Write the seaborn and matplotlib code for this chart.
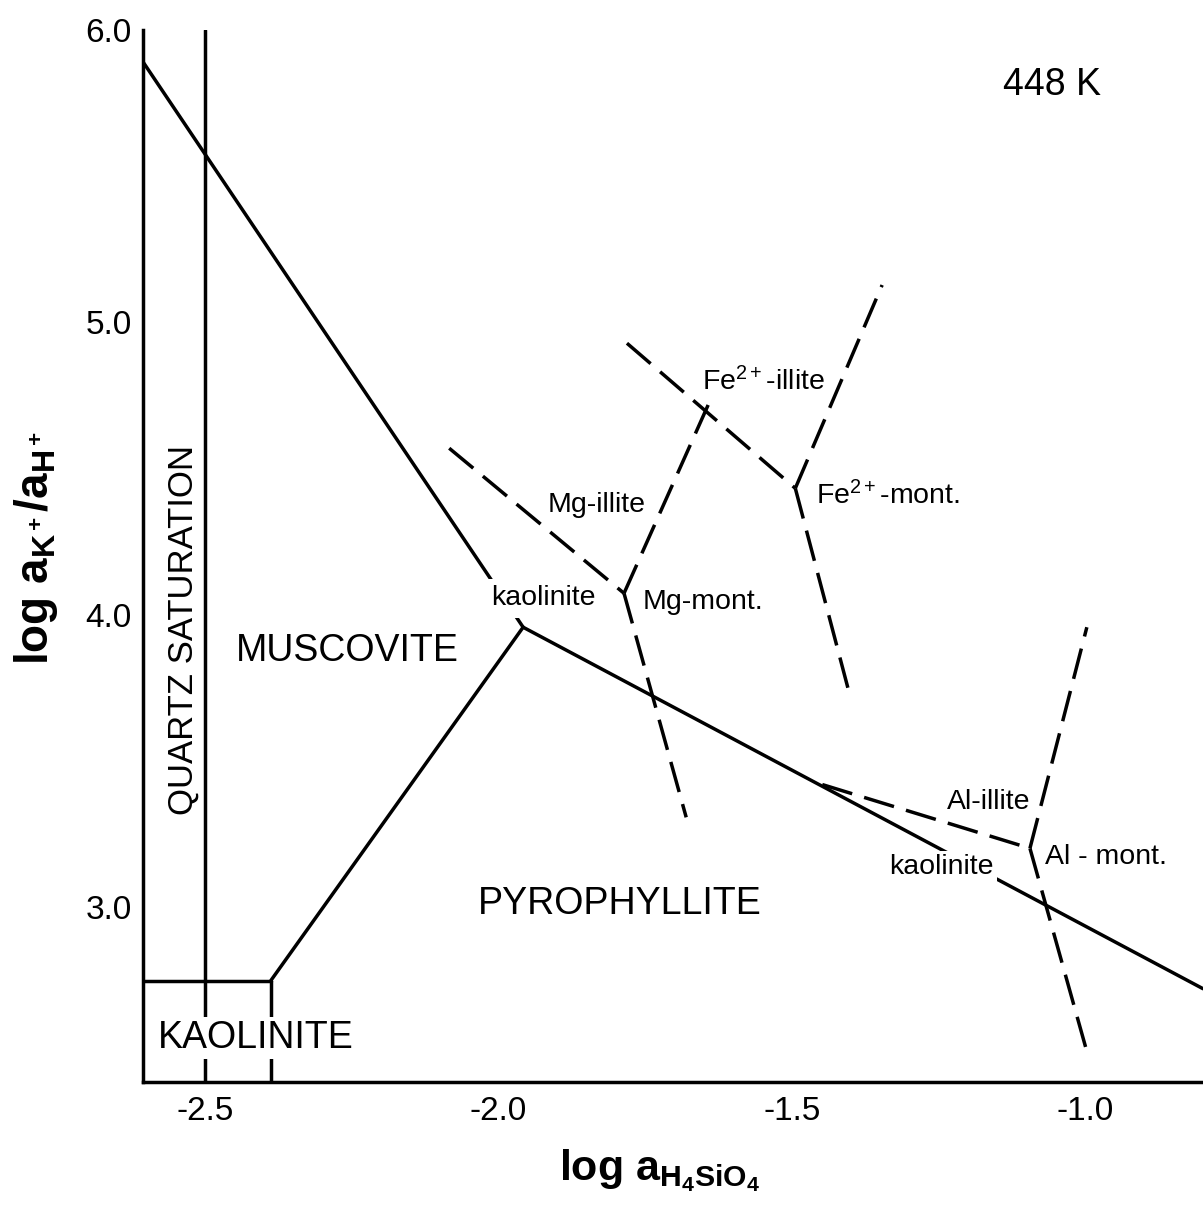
import matplotlib
matplotlib.use("Agg")
import matplotlib.pyplot as plt
import pandas as pd
import seaborn as sns

# Activity diagram K2O-Al2O3-SiO2-H2O at 448 K
# x: log a(H4SiO4), y: log a(K+)/a(H+)

X_MIN, X_MAX = -2.606, -0.799
Y_MIN, Y_MAX = 2.403, 6.0

# Stable phase boundaries (solid lines)
musc_kaol_x = [X_MIN, -1.958]
musc_kaol_y = [5.891, 3.958]
musc_pyro_x = [-1.958, X_MAX]
musc_pyro_y = [3.958, 2.722]
kaol_pyro_x = [-2.388, -1.958]
kaol_pyro_y = [2.750, 3.958]
kaol_top_x = [X_MIN, -2.388]
kaol_top_y = [2.750, 2.750]
kaol_side_x = [-2.388, -2.388]
kaol_side_y = [Y_MIN, 2.750]
quartz_x = [-2.5, -2.5]
quartz_y = [Y_MIN, 6.0]

# Metastable clay-mineral boundaries (dashed lines)
mg_illite_kaol_x = [-2.084, -1.786]
mg_illite_kaol_y = [4.570, 4.074]
mg_mont_low_x = [-1.786, -1.680]
mg_mont_low_y = [4.074, 3.308]
mg_mont_up_x = [-1.786, -1.639]
mg_mont_up_y = [4.074, 4.734]
fe_illite_x = [-1.781, -1.494]
fe_illite_y = [4.929, 4.433]
fe_mont_up_x = [-1.494, -1.346]
fe_mont_up_y = [4.433, 5.128]
fe_mont_low_x = [-1.494, -1.401]
fe_mont_low_y = [4.433, 3.725]
al_illite_x = [-1.448, -1.094]
al_illite_y = [3.420, 3.202]
al_mont_up_x = [-1.094, -0.997]
al_mont_up_y = [3.202, 3.958]
al_mont_low_x = [-1.094, -0.995]
al_mont_low_y = [3.202, 2.493]

stable = {
    "muscovite/kaolinite": (musc_kaol_x, musc_kaol_y),
    "muscovite/pyrophyllite": (musc_pyro_x, musc_pyro_y),
    "kaolinite/pyrophyllite": (kaol_pyro_x, kaol_pyro_y),
    "kaolinite top": (kaol_top_x, kaol_top_y),
    "kaolinite side": (kaol_side_x, kaol_side_y),
    "quartz saturation": (quartz_x, quartz_y),
}
metastable = {
    "Mg-illite/kaolinite": (mg_illite_kaol_x, mg_illite_kaol_y),
    "Mg-mont lower": (mg_mont_low_x, mg_mont_low_y),
    "Mg-mont upper": (mg_mont_up_x, mg_mont_up_y),
    "Fe-illite": (fe_illite_x, fe_illite_y),
    "Fe-mont upper": (fe_mont_up_x, fe_mont_up_y),
    "Fe-mont lower": (fe_mont_low_x, fe_mont_low_y),
    "Al-illite": (al_illite_x, al_illite_y),
    "Al-mont upper": (al_mont_up_x, al_mont_up_y),
    "Al-mont lower": (al_mont_low_x, al_mont_low_y),
}

rows = []
for kind, group in (("stable", stable), ("metastable", metastable)):
    for name, (xs, ys) in group.items():
        for order, (xv, yv) in enumerate(zip(xs, ys)):
            rows.append({"boundary": name, "kind": kind, "order": order,
                         "log_h4sio4": xv, "log_k_h": yv})
df = pd.DataFrame(rows)

# Field names
field_labels = ["MUSCOVITE", "PYROPHYLLITE", "KAOLINITE"]
field_x = [-2.258, -1.793, -2.413]
field_y = [3.876, 3.013, 2.555]

sns.set_theme(style="white")
plt.rcParams["font.family"] = ["Liberation Sans", "DejaVu Sans"]
plt.rcParams["mathtext.fontset"] = "custom"
plt.rcParams["mathtext.rm"] = "Liberation Sans"
plt.rcParams["mathtext.it"] = "Liberation Sans:italic"
plt.rcParams["mathtext.bf"] = "Liberation Sans:bold"
plt.rcParams["mathtext.sf"] = "Liberation Sans"
plt.rcParams["axes.unicode_minus"] = False
for key in ("text.color", "axes.labelcolor", "xtick.color", "ytick.color",
            "axes.edgecolor"):
    plt.rcParams[key] = "black"

fig = plt.figure(figsize=(12.03, 12.22), dpi=100)
ax = fig.add_axes([143 / 1203, 1 - 1082 / 1222, 1060 / 1203, 1052 / 1222])

sns.lineplot(data=df, x="log_h4sio4", y="log_k_h", units="boundary",
             estimator=None, sort=False, style="kind",
             dashes={"stable": "", "metastable": (9, 3.6)},
             color="black", linewidth=2.5, legend=False, ax=ax)

ax.set_xlim(X_MIN, X_MAX)
ax.set_ylim(Y_MIN, Y_MAX)
ax.set_xticks([-2.5, -2.0, -1.5, -1.0])
ax.set_xticklabels(["-2.5", "-2.0", "-1.5", "-1.0"])
ax.set_yticks([3.0, 4.0, 5.0, 6.0])
ax.set_yticklabels(["3.0", "4.0", "5.0", "6.0"])
ax.tick_params(axis="both", direction="in", length=10, width=2.0,
               labelsize=24, colors="black")
ax.tick_params(axis="x", pad=10)
ax.tick_params(axis="y", pad=8)

for side in ("top", "right"):
    ax.spines[side].set_visible(False)
for side in ("left", "bottom"):
    ax.spines[side].set_color("black")
    ax.spines[side].set_linewidth(2.5)

ax.set_xlabel(r"$\mathbf{log\ a_{H_4SiO_4}}$", fontsize=31)
ax.set_ylabel(r"$\mathbf{log\ a_{K^+}/a_{H^+}}$", fontsize=33)
ax.xaxis.set_label_coords(0.4877, -0.062)
ax.yaxis.set_label_coords(-0.078, 0.5076)

white = dict(boxstyle="square,pad=0.08", facecolor="white", edgecolor="none")

for label, xv, yv in zip(field_labels, field_x, field_y):
    ax.text(xv, yv, label, fontsize=27, ha="center", va="center",
            bbox=white if label == "KAOLINITE" else None, zorder=5)

ax.text(-2.5375, 3.947, "QUARTZ SATURATION", fontsize=25, rotation=90,
        ha="center", va="center", zorder=5)
ax.text(-1.0563, 5.812, "448 K", fontsize=27, ha="center", va="center")

small = 20.5
ax.text(-1.924, 4.057, "kaolinite", fontsize=small, ha="center", va="center",
        bbox=dict(boxstyle="square,pad=0.22", facecolor="white", edgecolor="none"),
        zorder=5)
ax.text(-1.245, 3.137, "kaolinite", fontsize=small, ha="center", va="center",
        bbox=dict(boxstyle="square,pad=0.12", facecolor="white", edgecolor="none"),
        zorder=5)
ax.text(-1.755, 4.043, "Mg-mont.", fontsize=small, ha="left", va="center")
ax.text(-1.832, 4.375, "Mg-illite", fontsize=small, ha="center", va="center")
ax.text(-1.549, 4.796, r"Fe$^{\mathregular{2+}}$-illite", fontsize=small,
        ha="center", va="center")
ax.text(-1.459, 4.409, r"Fe$^{\mathregular{2+}}$-mont.", fontsize=small,
        ha="left", va="center")
ax.text(-1.165, 3.359, "Al-illite", fontsize=small, ha="center", va="center")
ax.text(-1.068, 3.171, "Al - mont.", fontsize=small, ha="left", va="center")

fig.savefig("out.png", dpi=100, facecolor="white")
